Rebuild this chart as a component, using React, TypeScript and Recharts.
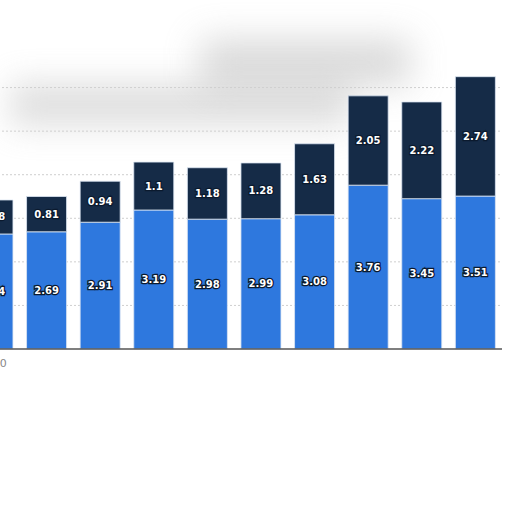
import React from "react"
import { BarChart, Bar, XAxis, YAxis, CartesianGrid, LabelList } from "recharts"

const years = ["2010", "2011", "2012", "2013", "2014", "2015", "2016", "2017", "2018", "2019"]
const lowerValues = [2.64, 2.69, 2.91, 3.19, 2.98, 2.99, 3.08, 3.76, 3.45, 3.51]
const upperValues = [0.78, 0.81, 0.94, 1.1, 1.18, 1.28, 1.63, 2.05, 2.22, 2.74]
const gridValues = [1, 2, 3, 4, 5, 6]

const BLUE = "#2e78de"
const NAVY = "#152b47"

const data = years.map((year, i) => ({
  year,
  lower: lowerValues[i],
  upper: upperValues[i],
}))

const valueLabel = (props: any) => {
  const { x, y, width, height, value } = props
  return (
    <text
      x={x + width / 2}
      y={y + height / 2}
      textAnchor="middle"
      dominantBaseline="central"
      fill="#fff"
      stroke="#0b1a2e"
      strokeWidth={2.5}
      paintOrder="stroke"
      fontSize={10}
      fontWeight="bold"
      fontFamily="'DejaVu Sans', sans-serif"
    >
      {value}
    </text>
  )
}

// only the first year label survives in the picture, the rest are cut away
const yearTick = (props: any) => {
  const { x, y, payload, index } = props
  if (index !== 0) return <g />
  return (
    <text x={x} y={y + 10} textAnchor="middle" fill="#888" fontSize={11} fontFamily="'DejaVu Sans', sans-serif">
      {payload.value}
    </text>
  )
}

export default function App() {
  return (
    <div style={{ position: "absolute", left: 0, top: 0, width: 512, height: 512, overflow: "hidden", background: "#fff" }}>
      {/* blurred smudge behind the bars */}
      <div style={{ position: "absolute", left: 10, top: 82, width: 340, height: 45, background: "#bbb", filter: "blur(16px)", opacity: 0.45 }} />
      <div style={{ position: "absolute", left: 200, top: 40, width: 210, height: 45, background: "#aaa", filter: "blur(18px)", opacity: 0.45 }} />
      <div style={{ position: "absolute", left: -34, top: 0 }}>
        <BarChart
          width={536}
          height={379}
          data={data}
          margin={{ top: 44, right: 0, bottom: 0, left: 0 }}
          barCategoryGap="13%"
        >
          <CartesianGrid vertical={false} horizontalValues={gridValues} stroke="#cfcfcf" strokeDasharray="2 2" />
          <XAxis
            dataKey="year"
            axisLine={{ stroke: "#555", strokeWidth: 1.5 }}
            tickLine={false}
            tick={yearTick}
            height={30}
            interval={0}
          />
          <YAxis hide domain={[0, 7]} />
          <Bar dataKey="lower" stackId="a" fill={BLUE} stroke="#dce6f3" strokeWidth={0.8} isAnimationActive={false}>
            <LabelList dataKey="lower" content={valueLabel} />
          </Bar>
          <Bar dataKey="upper" stackId="a" fill={NAVY} stroke="#dce6f3" strokeWidth={0.8} isAnimationActive={false}>
            <LabelList dataKey="upper" content={valueLabel} />
          </Bar>
        </BarChart>
      </div>
    </div>
  )
}
